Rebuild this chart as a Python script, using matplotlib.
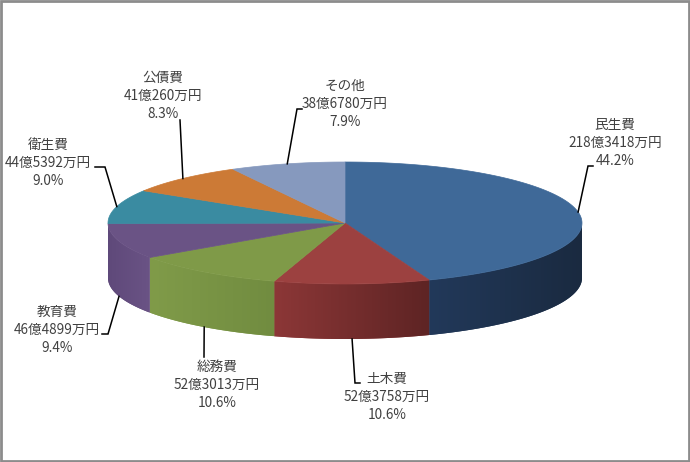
import numpy as np
import matplotlib
matplotlib.use("Agg")
import matplotlib.pyplot as plt
from matplotlib.colors import to_rgb
from matplotlib.patches import Polygon, Rectangle

plt.rcParams["font.family"] = ["Noto Sans CJK JP", "DejaVu Sans"]

# 歳出内訳 (万円) and the percentages as printed on the chart
categories = ["民生費", "土木費", "総務費", "教育費", "衛生費", "公債費", "その他"]
values_man = [2183418, 523758, 523013, 464899, 445392, 410260, 386780]
pct_labels = ["44.2%", "10.6%", "10.6%", "9.4%", "9.0%", "8.3%", "7.9%"]

top_colors = ["#3F6998", "#9C4140", "#7F9A48", "#6A5385", "#3A8BA1", "#CC7A36", "#8699BE"]
side_colors = [("#22395A", "#1A2A40"), ("#8C3737", "#5E2424"), ("#809B49", "#718C40"),
               ("#5F497A", "#6A5385"), ("#2E6F80", "#2E6F80"), ("#A3622B", "#A3622B"),
               ("#6B7A98", "#6B7A98")]

# label text centre (x, y) and leader line elbow points (pixel layout)
label_pos = [(615, 143), (387, 397), (217, 385), (57, 330), (48, 163), (163, 96), (345, 104)]
leader_pts = [[(588, 166), (593, 166)], [(355, 383), (360, 383)], [(204, 357)],
              [(108, 334), (102, 334)], [(105, 167), (95, 167)], [(180, 120)],
              [(297, 109), (302, 109)]]

W, H = 690, 462
CX, CY, A, B, DEPTH = 345, 223, 237, 61, 55


def ell(theta_deg, dy=0.0):
    t = np.radians(90.0 - np.asarray(theta_deg))
    return CX + A * np.cos(t), CY - B * np.sin(t) + dy


fig = plt.figure(figsize=(W / 100, H / 100), dpi=100)
ax = fig.add_axes([0, 0, 1, 1])
ax.set_xlim(0, W)
ax.set_ylim(H, 0)
ax.axis("off")

total = sum(values_man)
fracs = np.array(values_man) / total
bounds = np.concatenate([[0], np.cumsum(fracs) * 360])

# side walls (front half only: 90..270 deg clockwise from top), horizontal gradient
for i in range(len(categories)):
    t0, t1 = max(bounds[i], 90), min(bounds[i + 1], 270)
    if t1 <= t0:
        continue
    ths = np.linspace(t0, t1, 200)
    x_top, y_top = ell(ths)
    x_bot, y_bot = ell(ths[::-1], DEPTH)
    poly = np.column_stack([np.r_[x_top, x_bot], np.r_[y_top, y_bot]])
    c_l, c_r = np.array(to_rgb(side_colors[i][0])), np.array(to_rgb(side_colors[i][1]))
    patch = Polygon(poly, closed=True, facecolor=side_colors[i][0],
                    edgecolor="none", lw=0)
    ax.add_patch(patch)
    ramp = np.linspace(0, 1, 256)[None, :, None]
    grad = c_l[None, None, :] + (c_r - c_l)[None, None, :] * ramp
    x_min, x_max = poly[:, 0].min(), poly[:, 0].max()
    y_min, y_max = poly[:, 1].min(), poly[:, 1].max()
    im = ax.imshow(grad, extent=(x_min, x_max, y_max, y_min), aspect="auto",
                   interpolation="bilinear", zorder=patch.get_zorder())
    im.set_clip_path(patch)

ax.set_xlim(0, W)
ax.set_ylim(H, 0)

# top faces
for i in range(len(categories)):
    ths = np.linspace(bounds[i], bounds[i + 1], 120)
    x, y = ell(ths)
    poly = np.column_stack([np.r_[CX, x], np.r_[CY, y]])
    ax.add_patch(Polygon(poly, closed=True, facecolor=top_colors[i],
                         edgecolor=top_colors[i], lw=0.5, zorder=2))

# labels + leader lines
for i, name in enumerate(categories):
    v = values_man[i]
    text = f"{name}\n{v // 10000}億{v % 10000}万円\n{pct_labels[i]}"
    lx, ly = label_pos[i]
    ax.text(lx, ly, text, ha="center", va="center", fontsize=9.8,
            color="#404040", linespacing=1.4, zorder=4)
    mid = (bounds[i] + bounds[i + 1]) / 2
    dy = DEPTH if 90 < mid < 270 else 0
    ax0, ay0 = ell(mid, dy)
    pts = [(ax0, ay0)] + leader_pts[i]
    ax.plot([p[0] for p in pts], [p[1] for p in pts], color="black", lw=1.1,
            solid_joinstyle="miter", zorder=3)

# chart frame
ax.add_patch(Rectangle((1, 1), W - 2.5, H - 2.5, fill=False, edgecolor="#8C8C8C",
                       lw=2, zorder=5))

fig.savefig("out.png", dpi=100, facecolor="white")
